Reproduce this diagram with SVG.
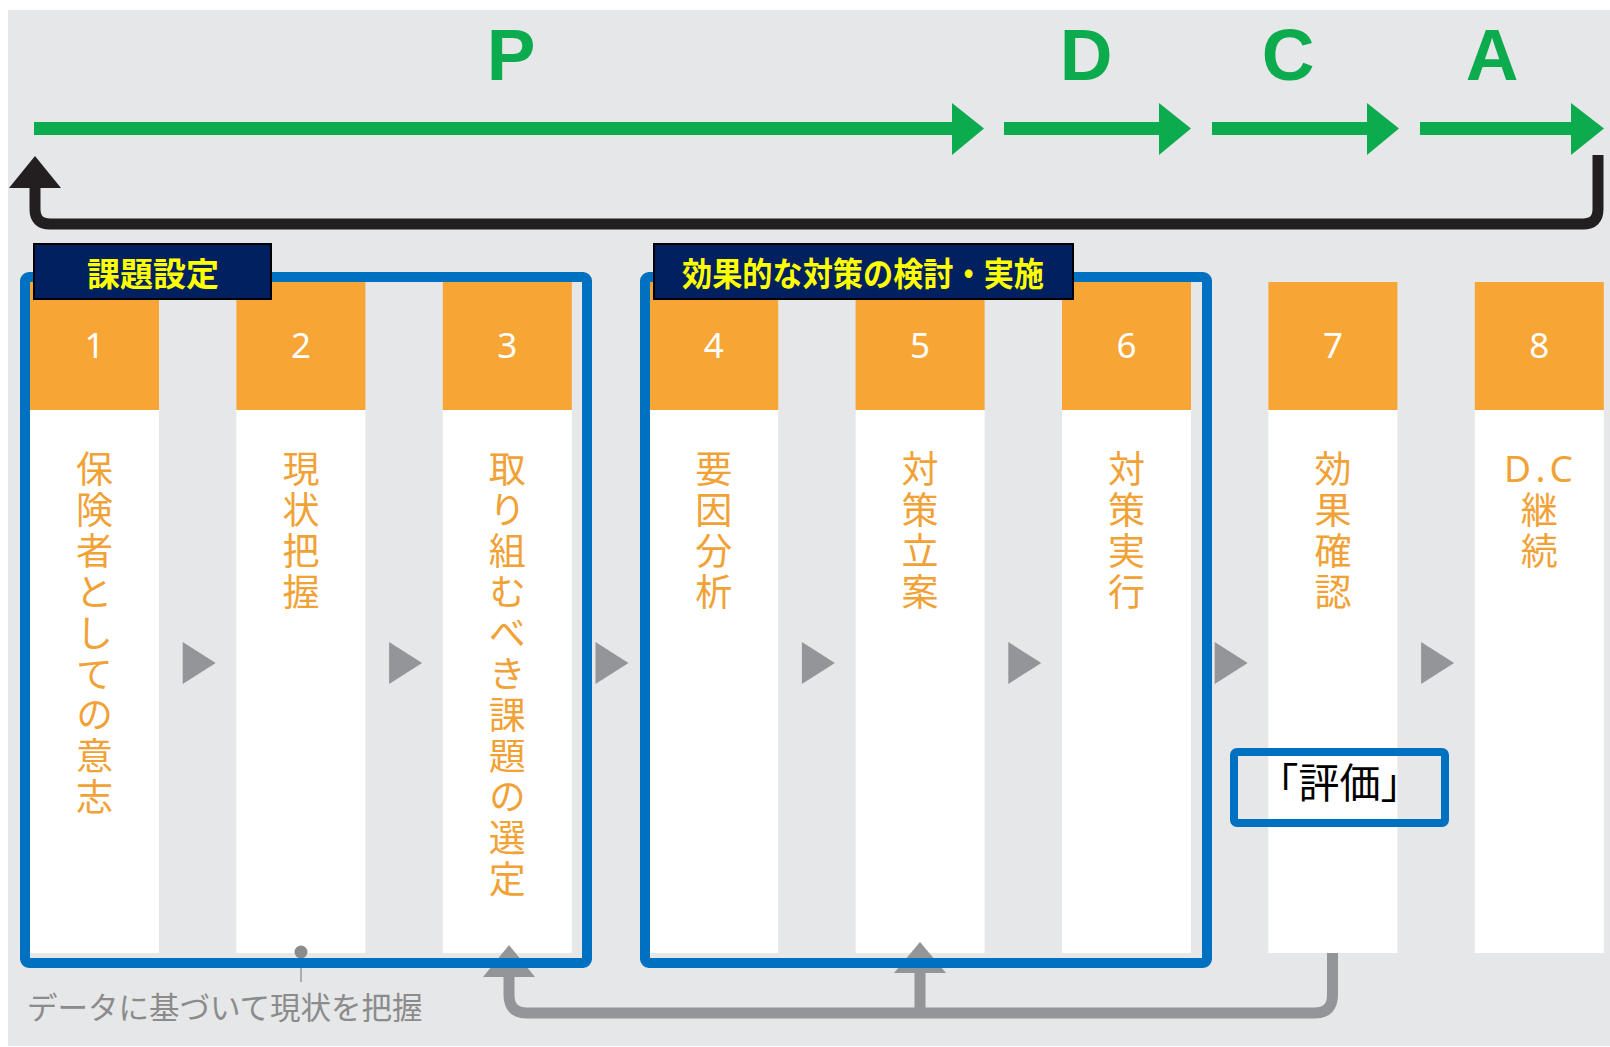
<svg xmlns="http://www.w3.org/2000/svg" width="1610" height="1047" viewBox="0 0 1610 1047">
<style>
.phase{font-family:"Liberation Sans",Arial,sans-serif;font-weight:bold;font-size:73px;fill:#0bab4e;text-anchor:middle}
.head{fill:#f7a534}
.body{fill:#ffffff}
.num{font-family:"Noto Sans","Liberation Sans",sans-serif;font-size:35px;fill:#ffffff;text-anchor:middle}
.dc{font-family:"Noto Sans","Liberation Sans",sans-serif;font-size:37px;fill:#f1a237;letter-spacing:6px}
.vt{font-family:"Noto Sans CJK JP",sans-serif;font-size:37px;fill:#f1a237;writing-mode:vertical-rl;letter-spacing:4px}
.tri{fill:#939598}
.green{fill:#0bab4e}
.gline{stroke:#0bab4e;stroke-width:13;fill:none}
.loop{stroke:#231f20;stroke-width:11;fill:none}
.gray{stroke:#939598;stroke-width:11;fill:none}
.frame{fill:none;stroke:#0070c0;stroke-width:10}
.tag{fill:#002060;stroke:#000000;stroke-width:2}
.tagt{font-family:"Noto Sans CJK JP",sans-serif;font-weight:bold;font-size:33px;fill:#ffff00;text-anchor:middle}
.note{font-family:"Noto Sans CJK JP",sans-serif;font-size:30.5px;fill:#8b8b8b}
.eval{font-family:"Noto Sans CJK JP",sans-serif;font-size:41px;fill:#000000;text-anchor:middle}
</style>
<rect x="8" y="10" width="1602" height="1036" fill="#e6e7e8"/>

<g id="phases">
<text class="phase" x="511" y="80">P</text>
<text class="phase" x="1086" y="80">D</text>
<text class="phase" x="1288" y="80">C</text>
<text class="phase" x="1492" y="80">A</text>
</g>

<g id="step1">
<rect class="head" x="30" y="282" width="129" height="128"/>
<rect class="body" x="30" y="410" width="129" height="543"/>
<text class="num" x="94.5" y="358">1</text>
<text class="vt" x="94.5" y="450">保険者としての意志</text>
</g>
<g id="step2">
<rect class="head" x="236.4" y="282" width="129" height="128"/>
<rect class="body" x="236.4" y="410" width="129" height="543"/>
<text class="num" x="300.9" y="358">2</text>
<text class="vt" x="300.9" y="450">現状把握</text>
</g>
<g id="step3">
<rect class="head" x="442.8" y="282" width="129" height="128"/>
<rect class="body" x="442.8" y="410" width="129" height="543"/>
<text class="num" x="507.3" y="358">3</text>
<text class="vt" x="507.3" y="450">取り組むべき課題の選定</text>
</g>
<g id="step4">
<rect class="head" x="649.2" y="282" width="129" height="128"/>
<rect class="body" x="649.2" y="410" width="129" height="543"/>
<text class="num" x="713.7" y="358">4</text>
<text class="vt" x="713.7" y="450">要因分析</text>
</g>
<g id="step5">
<rect class="head" x="855.6" y="282" width="129" height="128"/>
<rect class="body" x="855.6" y="410" width="129" height="543"/>
<text class="num" x="920.1" y="358">5</text>
<text class="vt" x="920.1" y="450">対策立案</text>
</g>
<g id="step6">
<rect class="head" x="1062" y="282" width="129" height="128"/>
<rect class="body" x="1062" y="410" width="129" height="543"/>
<text class="num" x="1126.5" y="358">6</text>
<text class="vt" x="1126.5" y="450">対策実行</text>
</g>
<g id="step7">
<rect class="head" x="1268.4" y="282" width="129" height="128"/>
<rect class="body" x="1268.4" y="410" width="129" height="543"/>
<text class="num" x="1332.9" y="358">7</text>
<text class="vt" x="1332.9" y="450">効果確認</text>
</g>
<g id="step8">
<rect class="head" x="1474.8" y="282" width="129" height="128"/>
<rect class="body" x="1474.8" y="410" width="129" height="543"/>
<text class="num" x="1539.3" y="358">8</text>
<text class="dc" x="1504" y="482">D.C</text>
<text class="vt" x="1539.3" y="491">継続</text>
</g>

<g id="connectors">
<path class="gline" d="M34,128.5 H955"/>
<polygon class="green" points="952,103 984,128.5 952,155"/>
<path class="gline" d="M1004,128.5 H1162"/>
<polygon class="green" points="1159,103 1191,128.5 1159,155"/>
<path class="gline" d="M1212,128.5 H1370"/>
<polygon class="green" points="1367,103 1399,128.5 1367,155"/>
<path class="gline" d="M1420,128.5 H1574"/>
<polygon class="green" points="1571,103 1604,128.5 1571,155"/>
<path class="loop" d="M1598,155 V209 Q1598,224 1583,224 H50 Q35,224 35,209 V186"/>
<polygon fill="#231f20" points="9,188 61,188 35,156"/>
<polygon class="tri" points="182.7,642 215.7,663 182.7,684"/>
<polygon class="tri" points="389.1,642 422.1,663 389.1,684"/>
<polygon class="tri" points="595.5,642 628.5,663 595.5,684"/>
<polygon class="tri" points="801.9,642 834.9,663 801.9,684"/>
<polygon class="tri" points="1008.3,642 1041.3,663 1008.3,684"/>
<polygon class="tri" points="1214.7,642 1247.7,663 1214.7,684"/>
<polygon class="tri" points="1421.1,642 1454.1,663 1421.1,684"/>
<path class="gray" d="M1332.5,953 V995 Q1332.5,1013 1314.5,1013 H527 Q509,1013 509,995 V974"/>
<polygon fill="#939598" points="483,977 535,977 509,945"/>
<path class="gray" d="M920,1013 V970"/>
<polygon fill="#939598" points="894,973 946,973 920,942"/>
<line x1="301" y1="952" x2="301" y2="982" stroke="#8b8b8b" stroke-width="1.3"/>
<circle cx="301" cy="952" r="6.5" fill="#8b8b8b"/>
</g>

<g id="group-kadai">
<rect class="frame" x="25" y="277" width="562" height="686" rx="4"/>
<rect class="tag" x="34" y="244" width="237" height="55"/>
<text class="tagt" x="153" y="286">課題設定</text>
</g>
<g id="group-taisaku">
<rect class="frame" x="645" y="277" width="562" height="686" rx="4"/>
<rect class="tag" x="654" y="244" width="419" height="55"/>
<text class="tagt" x="863" y="286" textLength="362" lengthAdjust="spacingAndGlyphs">効果的な対策の検討・実施</text>
</g>
<g id="eval">
<rect x="1234" y="752" width="211" height="71" rx="3" fill="none" stroke="#0070c0" stroke-width="8"/>
<text class="eval" x="1339.5" y="798">「評価」</text>
</g>
<g id="note">
<text class="note" x="27" y="1019">データに基づいて現状を把握</text>
</g>
</svg>
